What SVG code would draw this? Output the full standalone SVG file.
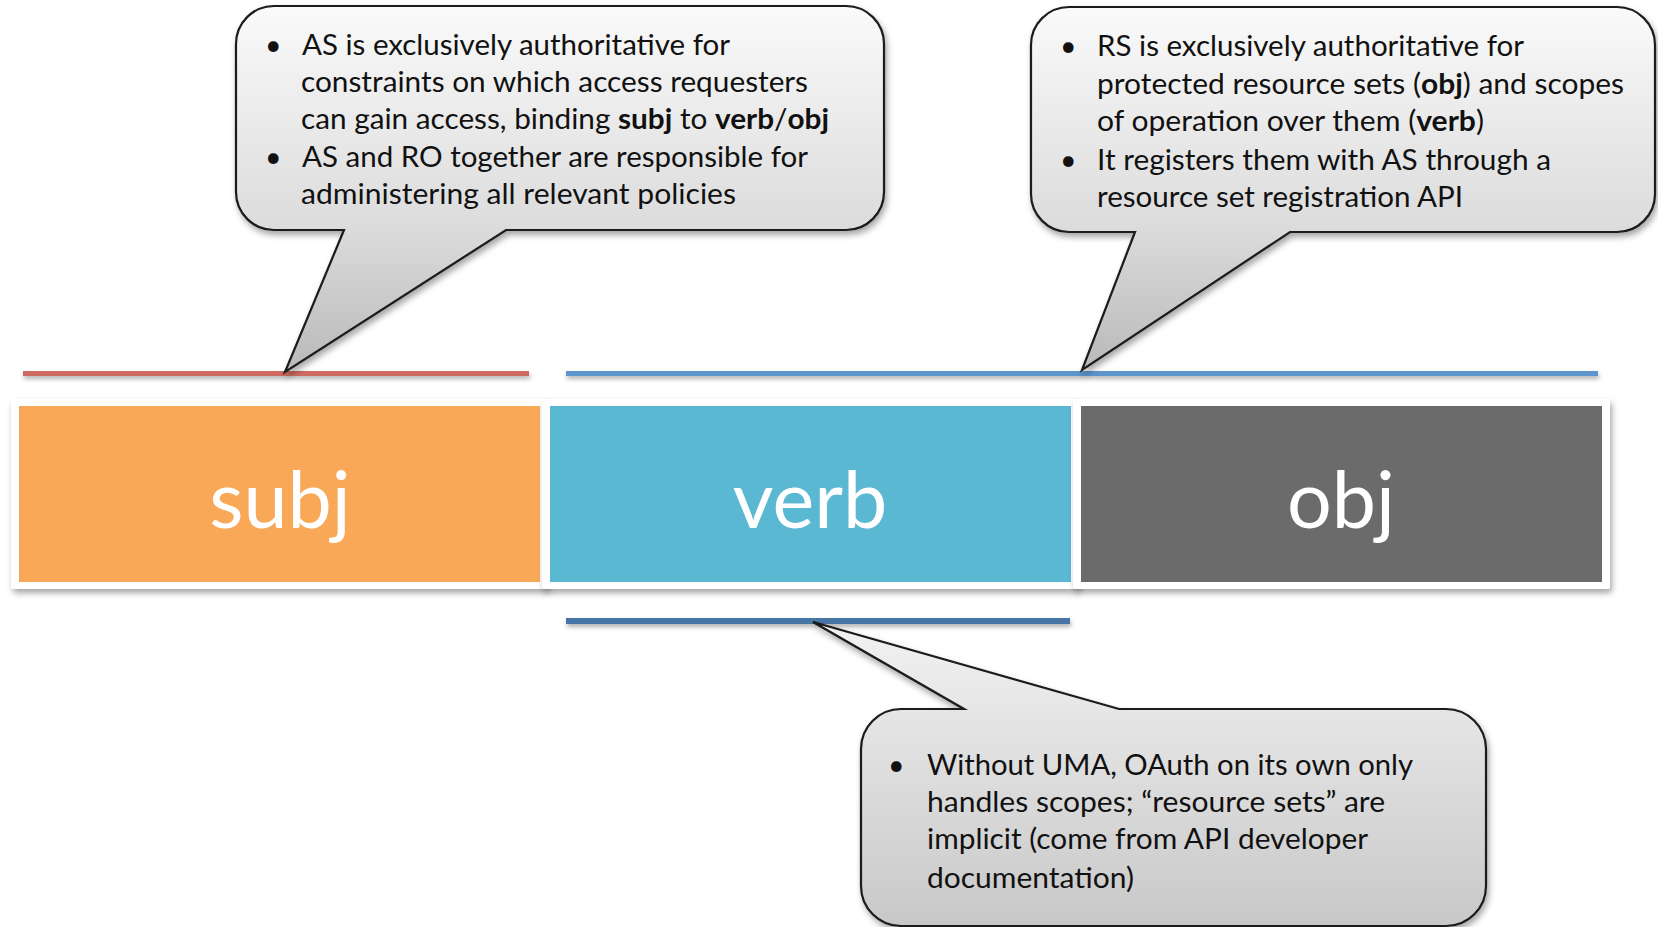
<svg xmlns="http://www.w3.org/2000/svg" width="1658" height="927" viewBox="0 0 1658 927">
<defs>
<linearGradient id="bub" x1="0" y1="0" x2="0" y2="1">
<stop offset="0" stop-color="#FAFAFA"/>
<stop offset="0.6" stop-color="#DCDCDC"/>
<stop offset="1" stop-color="#B9B9B9"/>
</linearGradient>
<linearGradient id="bub3" x1="0" y1="0" x2="0" y2="1">
<stop offset="0" stop-color="#F2F2F2"/>
<stop offset="1" stop-color="#C8C8C8"/>
</linearGradient>
<filter id="sh" x="-10%" y="-10%" width="120%" height="130%">
<feDropShadow dx="2" dy="4" stdDeviation="3" flood-color="#000" flood-opacity="0.35"/>
</filter>
<filter id="lsh" x="-5%" y="-100%" width="110%" height="400%">
<feDropShadow dx="1" dy="3" stdDeviation="2" flood-color="#000" flood-opacity="0.3"/>
</filter>
</defs>
<style>
.frame{fill:#FFFFFF;filter:url(#sh)}
.lbl{font-family:Lato,"Carlito","Open Sans",sans-serif;font-size:79px;fill:#FFFFFF;text-anchor:middle}
.bubble{stroke:#1A1A1A;stroke-width:2.2;filter:url(#sh)}
.t{font-family:Lato,"Open Sans",sans-serif;font-size:28.5px;fill:#111111}
.b{font-weight:bold}
.bar{filter:url(#lsh)}
</style>
<rect width="1658" height="927" fill="#FFFFFF"/>

<g id="connectors">
<rect class="bar" x="23" y="371" width="506" height="5" fill="#CF6A62"/>
<rect class="bar" x="566" y="371" width="1032" height="5" fill="#5D95CD"/>
<rect class="bar" x="566" y="618" width="504" height="6" fill="#4674A5"/>
</g>

<g id="subj">
<rect class="frame" x="11" y="399" width="537" height="190" rx="3"/>
<rect x="19" y="406" width="521" height="176" fill="#F9A857"/>
<text class="lbl" x="280" y="528">subj</text>
</g>
<g id="verb">
<rect class="frame" x="542" y="399" width="537" height="190" rx="3"/>
<rect x="550" y="406" width="521" height="176" fill="#5BB8D2"/>
<text class="lbl" x="810" y="528">verb</text>
</g>
<g id="obj">
<rect class="frame" x="1073" y="399" width="537" height="190" rx="3"/>
<rect x="1081" y="406" width="521" height="176" fill="#6B6B6B"/>
<text class="lbl" x="1341" y="528">obj</text>
</g>

<g id="callout-as">
<path class="bubble" fill="url(#bub)" d="M274,6 H846 A38,38 0 0 1 884,44 V192 A38,38 0 0 1 846,230 H506 L285,372 L344,230 H274 A38,38 0 0 1 236,192 V44 A38,38 0 0 1 274,6 Z"/>
<text class="t" x="265" y="55">•</text>
<text class="t" x="302" y="55" textLength="428" lengthAdjust="spacingAndGlyphs">AS is exclusively authoritative for</text>
<text class="t" x="301" y="92" textLength="507" lengthAdjust="spacingAndGlyphs">constraints on which access requesters</text>
<text class="t" x="301" y="129" textLength="528" lengthAdjust="spacingAndGlyphs">can gain access, binding <tspan class="b">subj</tspan> to <tspan class="b">verb</tspan>/<tspan class="b">obj</tspan></text>
<text class="t" x="265" y="167">•</text>
<text class="t" x="302" y="167" textLength="506" lengthAdjust="spacingAndGlyphs">AS and RO together are responsible for</text>
<text class="t" x="301" y="204" textLength="435" lengthAdjust="spacingAndGlyphs">administering all relevant policies</text>
</g>

<g id="callout-rs">
<path class="bubble" fill="url(#bub)" d="M1069,7 H1617 A38,38 0 0 1 1655,45 V194 A38,38 0 0 1 1617,232 H1290 L1082,370 L1135,232 H1069 A38,38 0 0 1 1031,194 V45 A38,38 0 0 1 1069,7 Z"/>
<text class="t" x="1060" y="56">•</text>
<text class="t" x="1097" y="56" textLength="427" lengthAdjust="spacingAndGlyphs">RS is exclusively authoritative for</text>
<text class="t" x="1097" y="94" textLength="527" lengthAdjust="spacingAndGlyphs">protected resource sets (<tspan class="b">obj</tspan>) and scopes</text>
<text class="t" x="1097" y="131" textLength="387" lengthAdjust="spacingAndGlyphs">of operation over them (<tspan class="b">verb</tspan>)</text>
<text class="t" x="1060" y="170">•</text>
<text class="t" x="1097" y="170" textLength="454" lengthAdjust="spacingAndGlyphs">It registers them with AS through a</text>
<text class="t" x="1097" y="207" textLength="366" lengthAdjust="spacingAndGlyphs">resource set registration API</text>
</g>

<g id="callout-oauth">
<path class="bubble" fill="url(#bub3)" d="M901,709 H964 L813,622 L1119,709 H1446 A40,40 0 0 1 1486,749 V886 A40,40 0 0 1 1446,926 H901 A40,40 0 0 1 861,886 V749 A40,40 0 0 1 901,709 Z"/>
<text class="t" x="888" y="775">•</text>
<text class="t" x="927" y="775" textLength="486" lengthAdjust="spacingAndGlyphs">Without UMA, OAuth on its own only</text>
<text class="t" x="927" y="812" textLength="458" lengthAdjust="spacingAndGlyphs">handles scopes; “resource sets” are</text>
<text class="t" x="927" y="849" textLength="441" lengthAdjust="spacingAndGlyphs">implicit (come from API developer</text>
<text class="t" x="927" y="888" textLength="207" lengthAdjust="spacingAndGlyphs">documentation)</text>
</g>
</svg>
